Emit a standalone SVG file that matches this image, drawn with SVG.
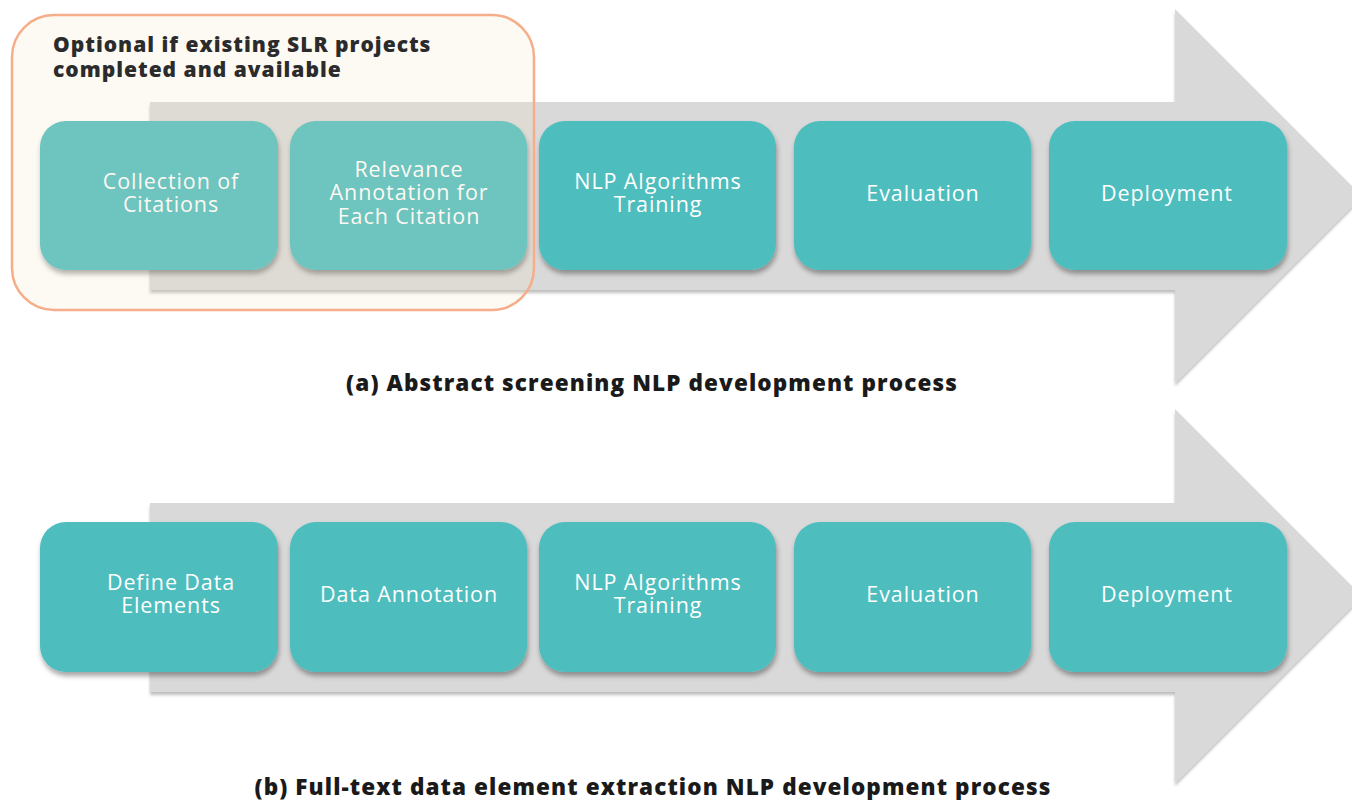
<svg xmlns="http://www.w3.org/2000/svg" width="1352" height="800" viewBox="0 0 1352 800">
<defs>
<filter id="sh" x="-10%" y="-10%" width="120%" height="130%">
<feDropShadow dx="1" dy="4" stdDeviation="2.5" flood-color="#000" flood-opacity="0.35"/>
</filter>
<filter id="ash" x="-5%" y="-5%" width="110%" height="115%">
<feDropShadow dx="0" dy="3" stdDeviation="1.5" flood-color="#000" flood-opacity="0.25"/>
</filter>
</defs>
<style>
.arrow{fill:#d9d9d9}
.box{fill:#4dbdbd}
.t{font-family:"Open Sans","Liberation Sans",sans-serif;font-size:21.5px;letter-spacing:0.9px;fill:#ffffff;text-anchor:middle}
.cap{font-family:"Open Sans","Liberation Sans",sans-serif;font-size:22.5px;letter-spacing:1.1px;font-weight:800;fill:#1a1a1a;text-anchor:middle}
.opt{font-family:"Open Sans","Liberation Sans",sans-serif;font-size:21px;letter-spacing:1px;font-weight:800;fill:#2b2b2b}
</style>
<rect width="1352" height="800" fill="#ffffff"/>
<g id="connectors">
<polygon id="arrow-a" class="arrow" filter="url(#ash)" points="150,102 1175,102 1175,9 1362,196 1175,383 1175,290 150,290"/>
<polygon id="arrow-b" class="arrow" filter="url(#ash)" points="150,503 1175,503 1175,409 1362,596 1175,783 1175,692 150,692"/>
</g>
<g id="a1"><rect class="box" filter="url(#sh)" x="40" y="121" width="238" height="149" rx="26"/><text class="t" x="171" y="189">Collection of</text><text class="t" x="171" y="212">Citations</text></g>
<g id="a2"><rect class="box" filter="url(#sh)" x="290" y="121" width="237" height="149" rx="26"/><text class="t" x="409" y="177">Relevance</text><text class="t" x="409" y="200">Annotation for</text><text class="t" x="409" y="224">Each Citation</text></g>
<g id="a3"><rect class="box" filter="url(#sh)" x="539" y="121" width="237" height="149" rx="26"/><text class="t" x="658" y="189">NLP Algorithms</text><text class="t" x="658" y="212">Training</text></g>
<g id="a4"><rect class="box" filter="url(#sh)" x="794" y="121" width="237" height="149" rx="26"/><text class="t" x="923" y="201">Evaluation</text></g>
<g id="a5"><rect class="box" filter="url(#sh)" x="1049" y="121" width="238" height="149" rx="26"/><text class="t" x="1167" y="201">Deployment</text></g>
<g id="optional">
<rect x="12" y="15" width="522" height="295" rx="42" fill="#f5e0c2" fill-opacity="0.2" stroke="#f5ad8a" stroke-width="2.5"/>
<text class="opt" x="53" y="52">Optional if existing SLR projects</text>
<text class="opt" x="53" y="77">completed and available</text>
</g>
<text id="cap-a" class="cap" x="652" y="391">(a) Abstract screening NLP development process</text>
<g id="b1"><rect class="box" filter="url(#sh)" x="40" y="522" width="238" height="150" rx="26"/><text class="t" x="171" y="590">Define Data</text><text class="t" x="171" y="613">Elements</text></g>
<g id="b2"><rect class="box" filter="url(#sh)" x="290" y="522" width="237" height="150" rx="26"/><text class="t" x="409" y="602">Data Annotation</text></g>
<g id="b3"><rect class="box" filter="url(#sh)" x="539" y="522" width="237" height="150" rx="26"/><text class="t" x="658" y="590">NLP Algorithms</text><text class="t" x="658" y="613">Training</text></g>
<g id="b4"><rect class="box" filter="url(#sh)" x="794" y="522" width="237" height="150" rx="26"/><text class="t" x="923" y="602">Evaluation</text></g>
<g id="b5"><rect class="box" filter="url(#sh)" x="1049" y="522" width="238" height="150" rx="26"/><text class="t" x="1167" y="602">Deployment</text></g>
<text id="cap-b" class="cap" x="653" y="795">(b) Full-text data element extraction NLP development process</text>
</svg>
